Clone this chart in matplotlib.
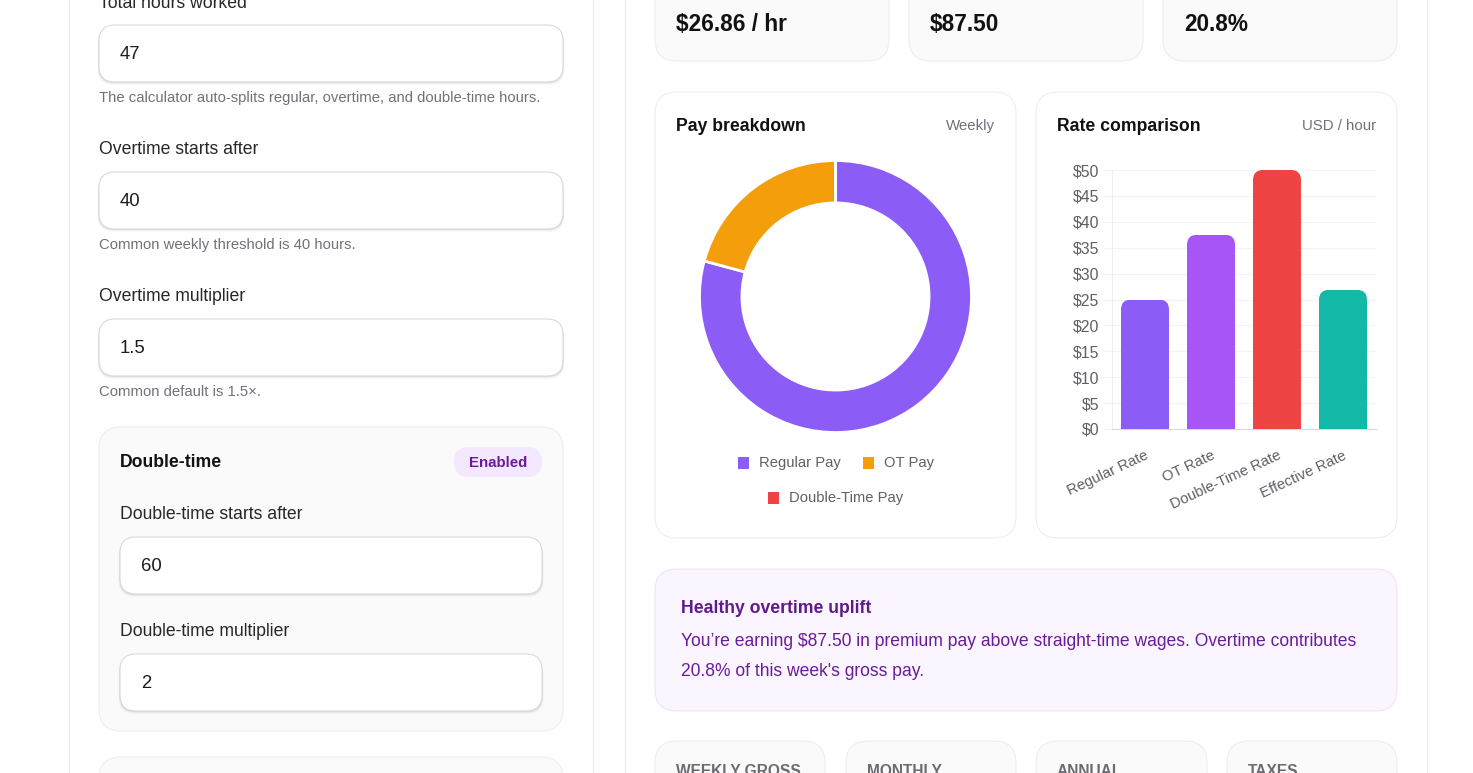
"""Pay calculator screenshot: form panel, donut and rate bars."""

import matplotlib
matplotlib.use("Agg")
import matplotlib.pyplot as plt
from matplotlib.patches import FancyBboxPatch, Rectangle
from matplotlib.transforms import IdentityTransform, ScaledTranslation

W, H = 1473, 773

PAY_LABELS = ["Regular Pay", "OT Pay", "Double-Time Pay"]
PAY_VALUES = [1000.0, 262.5, 0.0]
PAY_COLORS = ["#8b5cf6", "#f59e0b", "#ef4444"]

RATE_LABELS = ["Regular Rate", "OT Rate", "Double-Time Rate", "Effective Rate"]
RATE_VALUES = [25.0, 37.5, 50.0, 26.86]
RATE_COLORS = ["#8b5cf6", "#a855f7", "#ef4444", "#14b8a6"]
RATE_TICKS = [0, 5, 10, 15, 20, 25, 30, 35, 40, 45, 50]

STAT_VALUES = ["$26.86 / hr", "$87.50", "20.8%"]
FOOT_LABELS = ["WEEKLY GROSS", "MONTHLY", "ANNUAL", "TAXES"]

plt.rcParams["font.family"] = ["Liberation Sans", "DejaVu Sans"]

fig = plt.figure(figsize=(W / 100, H / 100), dpi=100, facecolor="#fefefe")
bg = fig.add_axes([0, 0, 1, 1])
bg.set_xlim(0, W)
bg.set_ylim(H, 0)
bg.axis("off")


def box(x0, y0, x1, y1, r, fc="white", ec="#ececef", lw=0.72, z=1, alpha=None):
    p = FancyBboxPatch((x0 + r, y0 + r), x1 - x0 - 2 * r, y1 - y0 - 2 * r,
                       boxstyle=f"round,pad={r},rounding_size={r}",
                       fc=fc, ec=ec, lw=lw, zorder=z, alpha=alpha)
    bg.add_patch(p)


def field(x0, y0, x1, y1, value):
    # soft shadow under the input
    for grow, a in [(3, 0.025), (2, 0.04), (1, 0.07)]:
        box(x0 - grow / 2, y0 + 2, x1 + grow / 2, y1 + grow, 16, fc="#000000", ec="none", z=3, alpha=a)
    box(x0, y0, x1, y1, 16, fc="white", ec="#dadadd", lw=0.8, z=4)
    txt(x0 + 21, y0 + 34, value, 18.5, "#1c1c1f")


def txt(x, y, s, px, color, weight="normal", ha="left"):
    bg.text(x, y, s, fontsize=px * 0.72, color=color, weight=weight,
            ha=ha, va="baseline", zorder=6)


# page panels
for x0, x1 in [(69, 593), (625, 1427)]:
    bg.add_patch(Rectangle((x0, -5), x1 - x0, H + 10, fc="white", ec="#ededf0", lw=0.9, zorder=0))

# left form
txt(99, 8, "Total hours worked", 17.6, "#27272a")
field(99, 25, 563, 82, "47")
txt(99, 102, "The calculator auto-splits regular, overtime, and double-time hours.", 14.93, "#71717a")
txt(99, 154, "Overtime starts after", 17.6, "#27272a")
field(99, 172, 563, 229, "40")
txt(99, 249, "Common weekly threshold is 40 hours.", 14.93, "#71717a")
txt(99, 301, "Overtime multiplier", 17.6, "#27272a")
field(99, 319, 563, 376, "1.5")
txt(99, 396, "Common default is 1.5×.", 14.93, "#71717a")

box(99, 427, 563, 731, 22, fc="#fafafa")
txt(120, 467, "Double-time", 17.6, "#111113", weight="bold")
box(454, 447, 542, 477, 15, fc="#f3e8ff", ec="none", z=3)
txt(498, 467, "Enabled", 15, "#6a1b9a", weight="bold", ha="center")
txt(120, 519, "Double-time starts after", 17.6, "#27272a")
field(120, 537, 542, 594, "60")
txt(120, 636, "Double-time multiplier", 17.6, "#27272a")
field(120, 654, 542, 711, "2")
box(99, 757, 563, 800, 22, fc="#fafafa")

# stat cards on top
for (x0, x1), val in zip([(655, 889), (909, 1143), (1163, 1397)], STAT_VALUES):
    box(x0, -40, x1, 61, 22, fc="#fafafa")
    txt(x0 + 21, 31, val, 22.6, "#111113", weight="bold")

# chart cards
box(655, 92, 1016, 538, 22)
box(1036, 92, 1397, 538, 22)
txt(676, 131, "Pay breakdown", 17.6, "#111113", weight="bold")
txt(995, 130, "Weekly", 15, "#71717a", ha="right")
txt(1057, 131, "Rate comparison", 17.6, "#111113", weight="bold")
txt(1376, 130, "USD / hour", 15, "#71717a", ha="right")

# donut
cx, cy, rad = 835.5, 296.5, 136
ax_pie = fig.add_axes([(cx - rad) / W, 1 - (cy + rad) / H, 2 * rad / W, 2 * rad / H], zorder=5)
ax_pie.pie(PAY_VALUES, colors=PAY_COLORS, startangle=90, counterclock=False, radius=1.0,
           wedgeprops=dict(width=0.312, edgecolor="white", linewidth=2.0))
ax_pie.set_xlim(-1, 1)
ax_pie.set_ylim(-1, 1)

# legend of the donut, two centred rows
for i, (label, color) in enumerate(zip(PAY_LABELS, PAY_COLORS)):
    sx, tx, ty = [(738, 759, 467), (863, 884, 467), (768, 789, 502)][i]
    bg.add_patch(Rectangle((sx, ty - 10), 11, 12, fc=color, ec="none", zorder=5))
    txt(tx, ty, label, 14.7, "#5f5f66")

# rate bars
L, R, T, B = 1112, 1376, 170, 429
ax = fig.add_axes([L / W, 1 - B / H, (R - L) / W, (B - T) / H], zorder=5)
ax.patch.set_alpha(0)
xs = list(range(len(RATE_VALUES)))
bars = ax.bar(xs, RATE_VALUES, width=0.727, color=RATE_COLORS, zorder=3)
ax.set_xlim(-0.5, 3.5)
ax.set_ylim(0, 50)
ax.set_yticks(RATE_TICKS)
ax.set_yticklabels([f"${v}" for v in RATE_TICKS], fontsize=11.4, color="#5f5f66")
ax.set_xticks(xs)
ax.set_xticklabels(RATE_LABELS, fontsize=10.7, color="#5f5f66", rotation=25,
                   ha="right", rotation_mode="anchor")
shift = ScaledTranslation(-7 / 100, 0, fig.dpi_scale_trans)
for lab in ax.get_xticklabels():
    lab.set_transform(lab.get_transform() + shift)
ax.grid(axis="y", color="#f3f3f5", lw=0.8, zorder=0)
ax.tick_params(axis="y", length=6.5, width=0.8, color="#f3f3f5", pad=2.8)
ax.tick_params(axis="x", length=0, pad=14)
for side in ["top", "right"]:
    ax.spines[side].set_visible(False)
ax.spines["left"].set_color("#efeff2")
ax.spines["left"].set_linewidth(0.8)
ax.spines["bottom"].set_color("#d8d8de")
ax.spines["bottom"].set_linewidth(0.8)

# rounded tops: clip each bar to a rounded box in pixels
fig.canvas.draw()
for bar in bars:
    e = bar.get_window_extent()
    r = 10
    clip = FancyBboxPatch((e.x0 + r, e.y0 - 30), e.width - 2 * r, e.height + 30 - r,
                          boxstyle=f"round,pad={r},rounding_size={r}",
                          transform=IdentityTransform())
    bar.set_clip_path(clip)

# callout
box(655, 569, 1397, 711, 22, fc="#faf5ff", ec="#ece4f3")
txt(681, 613, "Healthy overtime uplift", 17.6, "#5e1a8a", weight="bold")
txt(681, 646, "You’re earning $87.50 in premium pay above straight-time wages. Overtime contributes", 17.55, "#6a1b9a")
txt(681, 676, "20.8% of this week's gross pay.", 17.55, "#6a1b9a")

# footer cards, cut off by the page edge
for (x0, x1), label in zip([(655, 825), (846, 1016), (1036, 1207), (1227, 1397)], FOOT_LABELS):
    box(x0, 741, x1, 810, 22, fc="#fafafa")
    txt(x0 + 21, 776, label, 15.5, "#6b6b72", weight="bold")

fig.savefig("out.png", dpi=100, facecolor=fig.get_facecolor())
